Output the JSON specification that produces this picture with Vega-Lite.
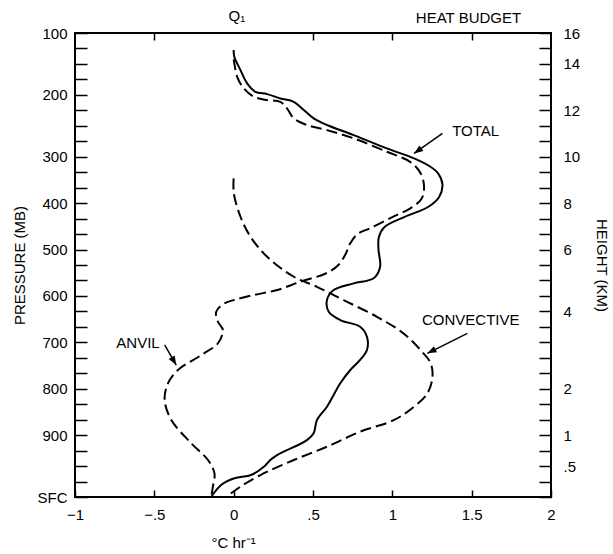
{
  "$schema": "https://vega.github.io/schema/vega-lite/v6.json",
  "width": 476,
  "height": 464,
  "autosize": {"type": "none"},
  "padding": {"left": 75, "top": 33, "right": 62, "bottom": 57},
  "background": "white",
  "config": {
    "view": {"stroke": "black", "strokeWidth": 2},
    "font": "Liberation Sans",
    "axis": {
      "domain": false,
      "grid": false,
      "tickColor": "black",
      "tickWidth": 1.5,
      "labelColor": "black",
      "labelFont": "Liberation Sans",
      "labelFontSize": 15,
      "labelOverlap": false,
      "labelFlush": false,
      "titleColor": "black",
      "titleFont": "Liberation Sans",
      "titleFontSize": 15,
      "titleFontWeight": "normal"
    },
    "text": {"font": "Liberation Sans", "fontSize": 15, "color": "black"}
  },
  "datasets": {
    "curves": [
      {"s": "TOTAL", "i": 0, "x": 0, "y": 28.9},
      {"s": "TOTAL", "i": 1, "x": 0.004, "y": 28.46},
      {"s": "TOTAL", "i": 2, "x": 0.043, "y": 27.6},
      {"s": "TOTAL", "i": 3, "x": 0.085, "y": 26.74},
      {"s": "TOTAL", "i": 4, "x": 0.137, "y": 26.2},
      {"s": "TOTAL", "i": 5, "x": 0.211, "y": 26.05},
      {"s": "TOTAL", "i": 6, "x": 0.294, "y": 25.77},
      {"s": "TOTAL", "i": 7, "x": 0.379, "y": 25.55},
      {"s": "TOTAL", "i": 8, "x": 0.442, "y": 25.02},
      {"s": "TOTAL", "i": 9, "x": 0.504, "y": 24.48},
      {"s": "TOTAL", "i": 10, "x": 0.588, "y": 24.05},
      {"s": "TOTAL", "i": 11, "x": 0.756, "y": 23.4},
      {"s": "TOTAL", "i": 12, "x": 0.965, "y": 22.54},
      {"s": "TOTAL", "i": 13, "x": 1.137, "y": 21.89},
      {"s": "TOTAL", "i": 14, "x": 1.24, "y": 21.35},
      {"s": "TOTAL", "i": 15, "x": 1.29, "y": 20.9},
      {"s": "TOTAL", "i": 16, "x": 1.316, "y": 20.2},
      {"s": "TOTAL", "i": 17, "x": 1.295, "y": 19.4},
      {"s": "TOTAL", "i": 18, "x": 1.225, "y": 18.75},
      {"s": "TOTAL", "i": 19, "x": 1.075, "y": 18.1},
      {"s": "TOTAL", "i": 20, "x": 0.95, "y": 17.45},
      {"s": "TOTAL", "i": 21, "x": 0.915, "y": 16.8},
      {"s": "TOTAL", "i": 22, "x": 0.913, "y": 15.97},
      {"s": "TOTAL", "i": 23, "x": 0.923, "y": 14.89},
      {"s": "TOTAL", "i": 24, "x": 0.882, "y": 14.14},
      {"s": "TOTAL", "i": 25, "x": 0.756, "y": 13.81},
      {"s": "TOTAL", "i": 26, "x": 0.63, "y": 13.38},
      {"s": "TOTAL", "i": 27, "x": 0.588, "y": 12.73},
      {"s": "TOTAL", "i": 28, "x": 0.599, "y": 11.98},
      {"s": "TOTAL", "i": 29, "x": 0.672, "y": 11.44},
      {"s": "TOTAL", "i": 30, "x": 0.797, "y": 11.01},
      {"s": "TOTAL", "i": 31, "x": 0.84, "y": 10.36},
      {"s": "TOTAL", "i": 32, "x": 0.84, "y": 9.5},
      {"s": "TOTAL", "i": 33, "x": 0.797, "y": 8.86},
      {"s": "TOTAL", "i": 34, "x": 0.735, "y": 8.21},
      {"s": "TOTAL", "i": 35, "x": 0.672, "y": 7.35},
      {"s": "TOTAL", "i": 36, "x": 0.588, "y": 5.84},
      {"s": "TOTAL", "i": 37, "x": 0.525, "y": 4.98},
      {"s": "TOTAL", "i": 38, "x": 0.504, "y": 4.12},
      {"s": "TOTAL", "i": 39, "x": 0.462, "y": 3.68},
      {"s": "TOTAL", "i": 40, "x": 0.274, "y": 2.71},
      {"s": "TOTAL", "i": 41, "x": 0.231, "y": 2.39},
      {"s": "TOTAL", "i": 42, "x": 0.19, "y": 1.95},
      {"s": "TOTAL", "i": 43, "x": 0.11, "y": 1.42},
      {"s": "TOTAL", "i": 44, "x": 0.005, "y": 1.21},
      {"s": "TOTAL", "i": 45, "x": -0.079, "y": 0.78},
      {"s": "TOTAL", "i": 46, "x": -0.142, "y": 0},
      {"s": "ANVIL", "i": 0, "x": 0, "y": 28.3},
      {"s": "ANVIL", "i": 1, "x": 0.005, "y": 28.0},
      {"s": "ANVIL", "i": 2, "x": 0.022, "y": 27.17},
      {"s": "ANVIL", "i": 3, "x": 0.064, "y": 26.42},
      {"s": "ANVIL", "i": 4, "x": 0.127, "y": 25.88},
      {"s": "ANVIL", "i": 5, "x": 0.211, "y": 25.66},
      {"s": "ANVIL", "i": 6, "x": 0.294, "y": 25.55},
      {"s": "ANVIL", "i": 7, "x": 0.336, "y": 25.13},
      {"s": "ANVIL", "i": 8, "x": 0.379, "y": 24.48},
      {"s": "ANVIL", "i": 9, "x": 0.462, "y": 24.05},
      {"s": "ANVIL", "i": 10, "x": 0.588, "y": 23.72},
      {"s": "ANVIL", "i": 11, "x": 0.756, "y": 23.19},
      {"s": "ANVIL", "i": 12, "x": 0.965, "y": 22.32},
      {"s": "ANVIL", "i": 13, "x": 1.112, "y": 21.67},
      {"s": "ANVIL", "i": 14, "x": 1.179, "y": 20.92},
      {"s": "ANVIL", "i": 15, "x": 1.2, "y": 20.06},
      {"s": "ANVIL", "i": 16, "x": 1.185, "y": 19.3},
      {"s": "ANVIL", "i": 17, "x": 1.116, "y": 18.68},
      {"s": "ANVIL", "i": 18, "x": 1.0, "y": 18.1},
      {"s": "ANVIL", "i": 19, "x": 0.865, "y": 17.4},
      {"s": "ANVIL", "i": 20, "x": 0.78, "y": 17.0},
      {"s": "ANVIL", "i": 21, "x": 0.735, "y": 16.4},
      {"s": "ANVIL", "i": 22, "x": 0.705, "y": 15.7},
      {"s": "ANVIL", "i": 23, "x": 0.66, "y": 15.0},
      {"s": "ANVIL", "i": 24, "x": 0.58, "y": 14.45},
      {"s": "ANVIL", "i": 25, "x": 0.42, "y": 13.92},
      {"s": "ANVIL", "i": 26, "x": 0.274, "y": 13.38},
      {"s": "ANVIL", "i": 27, "x": 0.127, "y": 13.06},
      {"s": "ANVIL", "i": 28, "x": 0, "y": 12.73},
      {"s": "ANVIL", "i": 29, "x": -0.058, "y": 12.52},
      {"s": "ANVIL", "i": 30, "x": -0.11, "y": 11.98},
      {"s": "ANVIL", "i": 31, "x": -0.099, "y": 11.33},
      {"s": "ANVIL", "i": 32, "x": -0.068, "y": 10.8},
      {"s": "ANVIL", "i": 33, "x": -0.099, "y": 9.94},
      {"s": "ANVIL", "i": 34, "x": -0.204, "y": 9.18},
      {"s": "ANVIL", "i": 35, "x": -0.351, "y": 8.21},
      {"s": "ANVIL", "i": 36, "x": -0.414, "y": 7.35},
      {"s": "ANVIL", "i": 37, "x": -0.435, "y": 6.27},
      {"s": "ANVIL", "i": 38, "x": -0.393, "y": 4.98},
      {"s": "ANVIL", "i": 39, "x": -0.267, "y": 3.47},
      {"s": "ANVIL", "i": 40, "x": -0.162, "y": 2.39},
      {"s": "ANVIL", "i": 41, "x": -0.121, "y": 1.53},
      {"s": "ANVIL", "i": 42, "x": -0.131, "y": 0.67},
      {"s": "ANVIL", "i": 43, "x": -0.142, "y": 0},
      {"s": "CONVECTIVE", "i": 0, "x": 0, "y": 20.6},
      {"s": "CONVECTIVE", "i": 1, "x": 0.001, "y": 19.63},
      {"s": "CONVECTIVE", "i": 2, "x": 0.043, "y": 18.12},
      {"s": "CONVECTIVE", "i": 3, "x": 0.106, "y": 16.83},
      {"s": "CONVECTIVE", "i": 4, "x": 0.211, "y": 15.53},
      {"s": "CONVECTIVE", "i": 5, "x": 0.379, "y": 14.24},
      {"s": "CONVECTIVE", "i": 6, "x": 0.525, "y": 13.59},
      {"s": "CONVECTIVE", "i": 7, "x": 0.693, "y": 12.73},
      {"s": "CONVECTIVE", "i": 8, "x": 0.903, "y": 11.65},
      {"s": "CONVECTIVE", "i": 9, "x": 1.07, "y": 10.58},
      {"s": "CONVECTIVE", "i": 10, "x": 1.196, "y": 9.29},
      {"s": "CONVECTIVE", "i": 11, "x": 1.242, "y": 8.64},
      {"s": "CONVECTIVE", "i": 12, "x": 1.253, "y": 7.78},
      {"s": "CONVECTIVE", "i": 13, "x": 1.221, "y": 6.7},
      {"s": "CONVECTIVE", "i": 14, "x": 1.137, "y": 5.84},
      {"s": "CONVECTIVE", "i": 15, "x": 1.011, "y": 4.98},
      {"s": "CONVECTIVE", "i": 16, "x": 0.797, "y": 4.22},
      {"s": "CONVECTIVE", "i": 17, "x": 0.588, "y": 3.25},
      {"s": "CONVECTIVE", "i": 18, "x": 0.379, "y": 2.39},
      {"s": "CONVECTIVE", "i": 19, "x": 0.169, "y": 1.42},
      {"s": "CONVECTIVE", "i": 20, "x": 0.043, "y": 0.67},
      {"s": "CONVECTIVE", "i": 21, "x": -0.03, "y": 0.13}
    ],
    "notes": [
      {"label": "TOTAL", "x": 1.525, "y": 23.68},
      {"label": "CONVECTIVE", "x": 1.494, "y": 11.44},
      {"label": "ANVIL", "x": -0.603, "y": 9.94},
      {"label": "Q₁", "x": 0.02, "y": 31.1},
      {"label": "HEAT BUDGET", "x": 1.48, "y": 31.0},
      {"label": "°C hr⁻¹", "x": 0.0, "y": -2.95}
    ],
    "arrows": [
      {"label": "TOTAL", "x": 1.316, "y": 23.51, "x2": 1.137, "y2": 22.21},
      {"label": "CONVECTIVE", "x": 1.473, "y": 10.58, "x2": 1.221, "y2": 9.29},
      {"label": "ANVIL", "x": -0.435, "y": 9.83, "x2": -0.362, "y2": 8.53}
    ]
  },
  "resolve": {"axis": {"x": "independent", "y": "independent"}},
  "layer": [
    {
      "data": {"name": "curves"},
      "transform": [{"filter": "datum.s == 'TOTAL'"}],
      "mark": {"type": "line", "color": "black", "strokeWidth": 2, "interpolate": "catmull-rom"},
      "encoding": {
        "x": {
          "field": "x", "type": "quantitative",
          "scale": {"domain": [-1, 2], "nice": false, "zero": false},
          "axis": {
            "orient": "bottom", "title": null,
            "values": [-1, -0.5, 0, 0.5, 1, 1.5, 2],
            "tickSize": -7, "labelPadding": 17,
            "labelExpr": "datum.value == -1 ? '−1' : datum.value == -0.5 ? '−.5' : datum.value == 0 ? '0' : datum.value == 0.5 ? '.5' : datum.value == 1 ? '1' : datum.value == 1.5 ? '1.5' : '2'"
          }
        },
        "y": {
          "field": "y", "type": "quantitative",
          "scale": {"domain": [0, 30], "nice": false, "zero": false},
          "axis": {
            "orient": "left", "title": "PRESSURE (MB)", "titlePadding": 10,
            "values": [0,1,2,3,4,5,6,7,8,9,10,11,12,13,14,15,16,17,18,19,20,21,22,23,24,25,26,27,28,29,30],
            "tickSize": -12, "labelPadding": 20,
            "labelExpr": "datum.value==30?'100':datum.value==26?'200':datum.value==22?'300':datum.value==19?'400':datum.value==16?'500':datum.value==13?'600':datum.value==10?'700':datum.value==7?'800':datum.value==4?'900':datum.value==0?'SFC':''"
          }
        },
        "order": {"field": "i", "type": "quantitative"}
      }
    },
    {
      "data": {"name": "curves"},
      "transform": [{"filter": "datum.s != 'TOTAL'"}],
      "mark": {"type": "line", "color": "black", "strokeWidth": 2, "strokeDash": [11, 5], "interpolate": "catmull-rom"},
      "encoding": {
        "x": {
          "field": "x", "type": "quantitative",
          "scale": {"domain": [-1, 2], "nice": false, "zero": false},
          "axis": {
            "orient": "top", "title": null, "labels": false,
            "values": [-0.5, 0.5, 1, 1.5], "tickSize": -7
          }
        },
        "y": {
          "field": "y", "type": "quantitative",
          "scale": {"domain": [0, 30], "nice": false, "zero": false},
          "axis": {
            "orient": "right", "title": "HEIGHT (KM)", "titlePadding": 14,
            "values": [0,1,2,3,4,5,6,7,8,9,10,11,12,13,14,15,16,17,18,19,20,21,22,23,24,25,26,27,28,29,30],
            "tickSize": -12, "labelPadding": 24,
            "labelExpr": "datum.value==30?'16':datum.value==28?'14':datum.value==25?'12':datum.value==22?'10':datum.value==19?'8':datum.value==16?'6':datum.value==12?'4':datum.value==7?'2':datum.value==4?'1':datum.value==2?'.5':''"
          }
        },
        "detail": {"field": "s", "type": "nominal"},
        "order": {"field": "i", "type": "quantitative"}
      }
    },
    {
      "mark": {"type": "rule", "color": "black", "strokeWidth": 1},
      "encoding": {
        "x": {"datum": 0, "type": "quantitative", "scale": {"domain": [-1, 2], "nice": false, "zero": false}, "axis": null}
      }
    },
    {
      "data": {"name": "notes"},
      "mark": {"type": "text", "align": "center", "baseline": "middle"},
      "encoding": {
        "x": {"field": "x", "type": "quantitative", "scale": {"domain": [-1, 2], "nice": false, "zero": false}, "axis": null},
        "y": {"field": "y", "type": "quantitative", "scale": {"domain": [0, 30], "nice": false, "zero": false}, "axis": null},
        "text": {"field": "label"}
      }
    },
    {
      "data": {"name": "arrows"},
      "mark": {"type": "rule", "color": "black", "strokeWidth": 1.5},
      "encoding": {
        "x": {"field": "x", "type": "quantitative", "scale": {"domain": [-1, 2], "nice": false, "zero": false}, "axis": null},
        "y": {"field": "y", "type": "quantitative", "scale": {"domain": [0, 30], "nice": false, "zero": false}, "axis": null},
        "x2": {"field": "x2"},
        "y2": {"field": "y2"}
      }
    },
    {
      "data": {"name": "arrows"},
      "transform": [{"filter": "datum.label == 'TOTAL'"}],
      "mark": {"type": "point", "shape": "M0,0L-0.38,1L0.38,1Z", "filled": true, "color": "black", "opacity": 1, "size": 324, "angle": 235},
      "encoding": {
        "x": {"field": "x2", "type": "quantitative", "scale": {"domain": [-1, 2], "nice": false, "zero": false}, "axis": null},
        "y": {"field": "y2", "type": "quantitative", "scale": {"domain": [0, 30], "nice": false, "zero": false}, "axis": null}
      }
    },
    {
      "data": {"name": "arrows"},
      "transform": [{"filter": "datum.label == 'CONVECTIVE'"}],
      "mark": {"type": "point", "shape": "M0,0L-0.38,1L0.38,1Z", "filled": true, "color": "black", "opacity": 1, "size": 324, "angle": 243},
      "encoding": {
        "x": {"field": "x2", "type": "quantitative", "scale": {"domain": [-1, 2], "nice": false, "zero": false}, "axis": null},
        "y": {"field": "y2", "type": "quantitative", "scale": {"domain": [0, 30], "nice": false, "zero": false}, "axis": null}
      }
    },
    {
      "data": {"name": "arrows"},
      "transform": [{"filter": "datum.label == 'ANVIL'"}],
      "mark": {"type": "point", "shape": "M0,0L-0.38,1L0.38,1Z", "filled": true, "color": "black", "opacity": 1, "size": 324, "angle": 150},
      "encoding": {
        "x": {"field": "x2", "type": "quantitative", "scale": {"domain": [-1, 2], "nice": false, "zero": false}, "axis": null},
        "y": {"field": "y2", "type": "quantitative", "scale": {"domain": [0, 30], "nice": false, "zero": false}, "axis": null}
      }
    }
  ]
}
